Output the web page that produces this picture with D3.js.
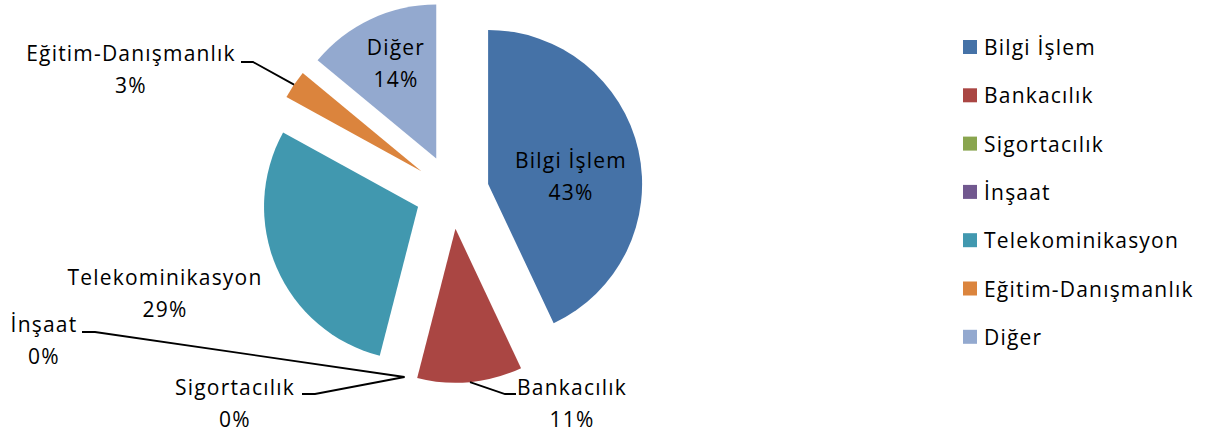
<!DOCTYPE html>
<html>
<head>
<meta charset="utf-8">
<script src="https://cdn.jsdelivr.net/npm/d3@7"></script>
<style>
    body { margin: 0; background: #fff; }
    text { font-family: "Open Sans", "Noto Sans", sans-serif; font-size: 21px; letter-spacing: 1.2px; fill: #000; }
</style>
</head>
<body>
<div class="pie-container"></div>
<script>
// data
var categories = ['Bilgi İşlem', 'Bankacılık', 'Sigortacılık', 'İnşaat', 'Telekominikasyon', 'Eğitim-Danışmanlık', 'Diğer'];
var values = [43, 11, 0, 0, 29, 3, 14];
var colors = ['#4572A7', '#AA4643', '#89A54E', '#71588F', '#4198AF', '#DB843D', '#93A9CF'];

var width = 1211,
    height = 440;

// pie geometry
var center = [452, 192],
    radius = 154,
    explode = 37;

// label block centers (x, y of the middle between the two lines)
var labelPos = [[571, 177], [572, 404], [235, 404], [44, 341], [165, 294], [131, 70], [396, 64]];
// leader line elbows, null = no leader
var leaderPts = [null, [[505, 394], [516, 394]], [[315, 394], [302, 394]], [[95, 332], [82, 332]], null, [[253, 62], [241, 62]], null];

var svg = d3.select('.pie-container')
    .append('svg')
    .attr('width', width)
    .attr('height', height);

var total = d3.sum(values);
var pie = d3.pie().sort(null).value(function (d) { return d; });
var slices = pie(values);

var arc = d3.arc().innerRadius(0).outerRadius(radius);

function dir(a) {
    return [Math.sin(a), -Math.cos(a)];
}

var g = svg.append('g').attr('transform', 'translate(' + center[0] + ',' + center[1] + ')');

g.selectAll('.slice')
    .data(slices)
    .enter()
    .append('path')
    .attr('class', 'slice')
    .attr('fill', function (d, i) { return colors[i]; })
    .attr('transform', function (d) {
        var m = dir((d.startAngle + d.endAngle) / 2);
        return 'translate(' + (m[0] * explode) + ',' + (m[1] * explode) + ')';
    })
    .attr('d', function (d) { return d.value > 0 ? arc(d) : null; });

// leader lines
slices.forEach(function (d, i) {
    if (!leaderPts[i]) return;
    var m = dir((d.startAngle + d.endAngle) / 2);
    var p0 = [center[0] + m[0] * (explode + radius), center[1] + m[1] * (explode + radius)];
    var pts = [p0].concat(leaderPts[i]);
    svg.append('path')
        .attr('d', d3.line()(pts))
        .attr('fill', 'none')
        .attr('stroke', '#000')
        .attr('stroke-width', 1.8);
});

// data labels
var labels = svg.selectAll('.label')
    .data(slices)
    .enter()
    .append('text')
    .attr('class', 'label')
    .attr('text-anchor', 'middle');

labels.append('tspan')
    .attr('x', function (d, i) { return labelPos[i][0]; })
    .attr('y', function (d, i) { return labelPos[i][1] - 9; })
    .text(function (d, i) { return categories[i]; });

labels.append('tspan')
    .attr('x', function (d, i) { return labelPos[i][0]; })
    .attr('y', function (d, i) { return labelPos[i][1] + 23; })
    .text(function (d) { return Math.round(d.value / total * 100) + '%'; });

// legend
var legend = svg.selectAll('.legend')
    .data(categories)
    .enter()
    .append('g')
    .attr('class', 'legend')
    .attr('transform', function (d, i) { return 'translate(963,' + (47 + i * 48.3) + ')'; });

legend.append('rect')
    .attr('x', 0)
    .attr('y', -7)
    .attr('width', 14)
    .attr('height', 14)
    .attr('fill', function (d, i) { return colors[i]; });

legend.append('text')
    .attr('x', 21)
    .attr('y', 8)
    .text(function (d) { return d; });
</script>
</body>
</html>
